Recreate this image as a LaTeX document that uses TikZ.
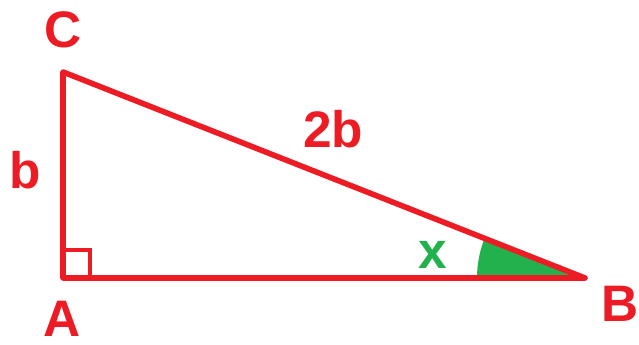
\documentclass[tikz,border=0pt]{standalone}
\usepackage{fontspec}
\setmainfont{Liberation Sans}
\usetikzlibrary{calc}
\definecolor{pred}{HTML}{ED1C24}
\definecolor{pgreen}{HTML}{22B14C}
\begin{document}
\begin{tikzpicture}[x=0.75pt,y=-0.75pt,
  lbl/.style={text=pred,font=\bfseries\fontsize{38.5}{40}\selectfont,anchor=base,inner sep=0pt},
  side/.style={draw=pred,line width=4.2pt,line join=round}]
\useasboundingbox (0,0) rectangle (639,344);
\coordinate (A) at (63,278);
\coordinate (B) at (585,278);
\coordinate (C) at (63,72);
\fill[pgreen] (B) -- ++(-108,0) arc[start angle=180,end angle=201.5,radius=108] -- cycle;
\draw[side] (A) -- (B) -- (C) -- cycle;
\draw[draw=pred,line width=3.5pt] ($(A)+(0,-28)$) -- ++(27,0) -- ++(0,28);
\node[lbl] (lC) at (63,47) {C};
\node[lbl] (lA) at (62,336) {A};
\node[lbl] (lB) at (620,321) {B};
\node[lbl] (lb) at (25,188) {b};
\node[lbl] (l2b) at (333,147) {2b};
\node[lbl,text=pgreen] (lx) at (433,268) {x};
\end{tikzpicture}
\end{document}
